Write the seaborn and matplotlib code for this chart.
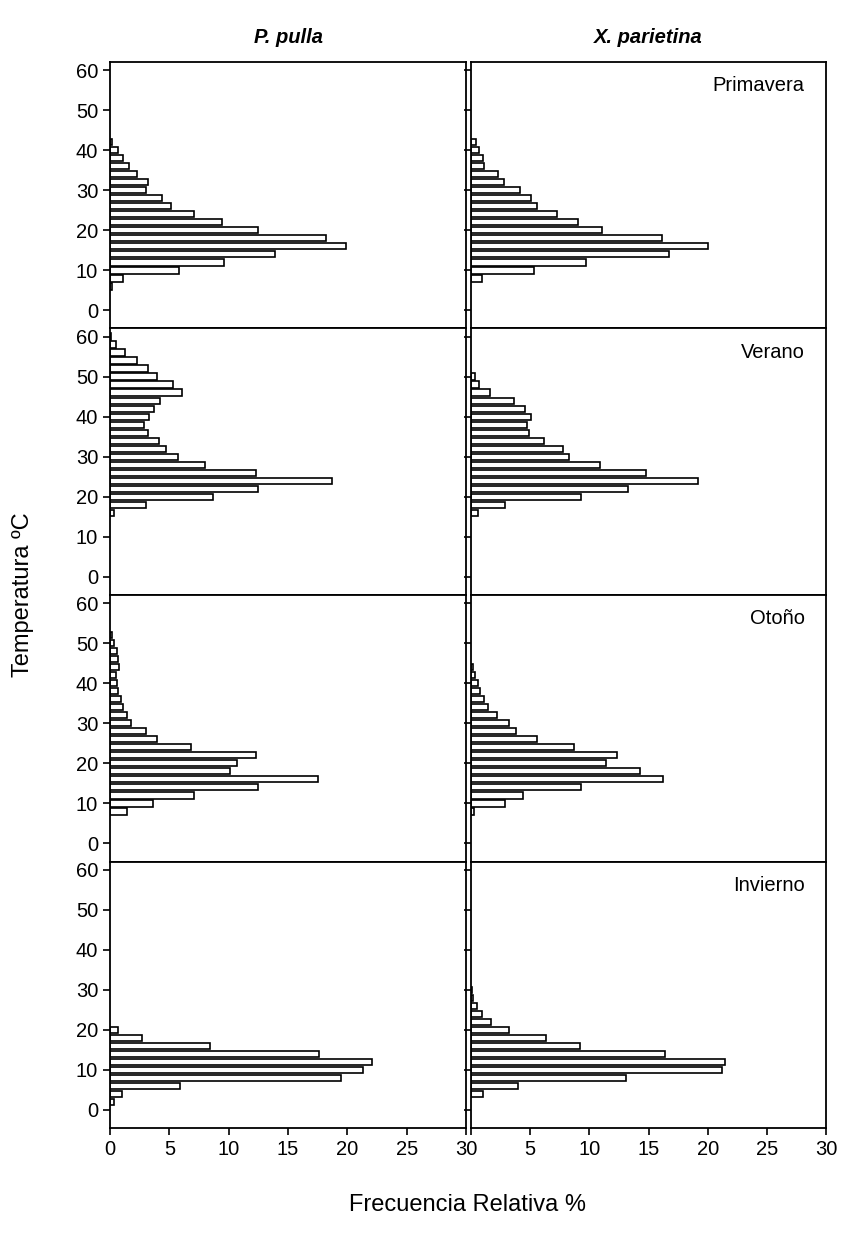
"""
Frecuencia relativa de temperaturas por estacion, P. pulla y X. parietina.
"""
import numpy as np
import matplotlib.pyplot as plt
import seaborn as sns
import pandas as pd

sns.set_style("ticks")
plt.rcParams['font.family'] = ['Liberation Sans', 'DejaVu Sans']
plt.rc('axes', linewidth=1.2)
plt.rc('text', color='black')

species = ['P. pulla', 'X. parietina']
seasons = ['Primavera', 'Verano', 'Otoño', 'Invierno']

# temperature class centres (ºC) and relative frequency (%)
pp_prim_t = [6, 8, 10, 12, 14, 16, 18, 20, 22, 24, 26, 28, 30, 32, 34, 36, 38, 40, 42]
pp_prim_f = [0.2, 1.1, 5.8, 9.6, 13.9, 19.9, 18.2, 12.5, 9.4, 7.1, 5.1, 4.4, 3.0, 3.2, 2.3, 1.6, 1.1, 0.7, 0.2]

xp_prim_t = [8, 10, 12, 14, 16, 18, 20, 22, 24, 26, 28, 30, 32, 34, 36, 38, 40, 42]
xp_prim_f = [0.9, 5.3, 9.7, 16.7, 20.0, 16.1, 11.1, 9.0, 7.3, 5.6, 5.1, 4.1, 2.8, 2.3, 1.1, 1.0, 0.7, 0.4]

pp_ver_t = [16, 18, 20, 22, 24, 26, 28, 30, 32, 34, 36, 38, 40, 42, 44, 46, 48, 50, 52, 54, 56, 58, 60]
pp_ver_f = [0.3, 3.0, 8.7, 12.5, 18.7, 12.3, 8.0, 5.7, 4.7, 4.1, 3.2, 2.9, 3.3, 3.7, 4.2, 6.1, 5.3, 4.0, 3.2, 2.3, 1.3, 0.5, 0.1]

xp_ver_t = [16, 18, 20, 22, 24, 26, 28, 30, 32, 34, 36, 38, 40, 42, 44, 46, 48, 50]
xp_ver_f = [0.6, 2.9, 9.3, 13.3, 19.2, 14.8, 10.9, 8.3, 7.8, 6.2, 4.9, 4.7, 5.1, 4.6, 3.6, 1.6, 0.7, 0.3]

pp_oto_t = [8, 10, 12, 14, 16, 18, 20, 22, 24, 26, 28, 30, 32, 34, 36, 38, 40, 42, 44, 46, 48, 50, 52]
pp_oto_f = [1.4, 3.6, 7.1, 12.5, 17.5, 10.1, 10.7, 12.3, 6.8, 4.0, 3.0, 1.8, 1.4, 1.1, 0.9, 0.7, 0.6, 0.5, 0.8, 0.7, 0.6, 0.3, 0.2]

xp_oto_t = [8, 10, 12, 14, 16, 18, 20, 22, 24, 26, 28, 30, 32, 34, 36, 38, 40, 42, 44]
xp_oto_f = [0.25, 2.9, 4.4, 9.3, 16.2, 14.3, 11.4, 12.3, 8.7, 5.6, 3.8, 3.2, 2.2, 1.4, 1.1, 0.75, 0.55, 0.3, 0.15]

pp_inv_t = [2, 4, 6, 8, 10, 12, 14, 16, 18, 20]
pp_inv_f = [0.3, 1.0, 5.9, 19.5, 21.3, 22.1, 17.6, 8.4, 2.7, 0.7]

xp_inv_t = [4, 6, 8, 10, 12, 14, 16, 18, 20, 22, 24, 26, 28, 30]
xp_inv_f = [1.0, 4.0, 13.1, 21.2, 21.5, 16.4, 9.2, 6.3, 3.2, 1.7, 0.9, 0.5, 0.2, 0.1]

panels = {
    ('P. pulla', 'Primavera'): (pp_prim_t, pp_prim_f),
    ('X. parietina', 'Primavera'): (xp_prim_t, xp_prim_f),
    ('P. pulla', 'Verano'): (pp_ver_t, pp_ver_f),
    ('X. parietina', 'Verano'): (xp_ver_t, xp_ver_f),
    ('P. pulla', 'Otoño'): (pp_oto_t, pp_oto_f),
    ('X. parietina', 'Otoño'): (xp_oto_t, xp_oto_f),
    ('P. pulla', 'Invierno'): (pp_inv_t, pp_inv_f),
    ('X. parietina', 'Invierno'): (xp_inv_t, xp_inv_f),
}

frames = []
for (sp, se), (t, f) in panels.items():
    frames.append(pd.DataFrame({'species': sp, 'season': se, 'temp': t, 'freq': f}))
data = pd.concat(frames, ignore_index=True)

x_ticks = [0, 5, 10, 15, 20, 25, 30]
y_ticks = [0, 10, 20, 30, 40, 50, 60]

fig = plt.figure(figsize=(8.41, 12.38), dpi=100)

top = 1 - 62 / 1238
bottom = 1 - 1128 / 1238
ph = (top - bottom) / 4
lefts = [110 / 841, 471 / 841]
widths = [356 / 841, 355 / 841]

for i, se in enumerate(seasons):
    for j, sp in enumerate(species):
        ax = fig.add_axes([lefts[j], top - (i + 1) * ph, widths[j], ph])
        sub = data[(data.species == sp) & (data.season == se)]
        sns.barplot(data=sub, x='freq', y='temp', orient='h', native_scale=True,
                    width=0.78, color='white', edgecolor='black', linewidth=1.2,
                    errorbar=None, ax=ax)
        ax.set_xlim(0, 30)
        ax.set_ylim(-4.5, 62)
        ax.set_xlabel('')
        ax.set_ylabel('')
        ax.set_yticks(y_ticks)
        ax.set_xticks(x_ticks)
        for s in ax.spines.values():
            s.set_visible(True)
            s.set_linewidth(1.3)
            s.set_color('black')
        ax.tick_params(direction='out', length=5, width=1.2, labelsize=14.5,
                       colors='black')
        if j == 0:
            ax.set_yticklabels([str(v) for v in y_ticks])
        else:
            ax.set_yticklabels([])
            ax.text(0.94, 0.91, se, transform=ax.transAxes, ha='right',
                    va='center', fontsize=14.5, color='black')
        if i == 3:
            if j == 0:
                ax.set_xticklabels([str(v) for v in x_ticks])
            else:
                ax.set_xticklabels([''] + [str(v) for v in x_ticks[1:]])
        else:
            ax.tick_params(axis='x', length=0, labelbottom=False)
        if i == 0:
            ax.set_title(sp, fontsize=14.5, fontweight='bold', fontstyle='italic',
                         pad=14, color='black')

fig.text(0.027, (top + bottom) / 2, 'Temperatura ºC', rotation=90,
         ha='center', va='center', fontsize=17, color='black')
fig.text(0.556, 1 - 1205 / 1238, 'Frecuencia Relativa %', ha='center',
         va='center', fontsize=17, color='black')

fig.savefig('out.png', dpi=100)
